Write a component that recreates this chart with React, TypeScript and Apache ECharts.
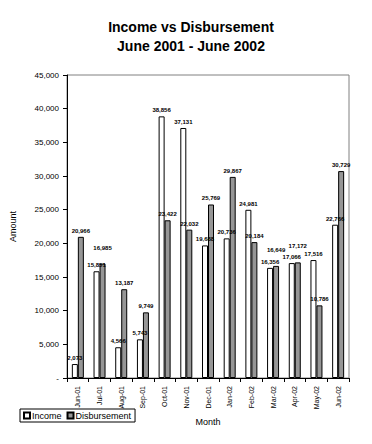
import React, { useEffect, useRef } from "react";
import * as echarts from "echarts";

const months = ["Jun-01", "Jul-01", "Aug-01", "Sep-01", "Oct-01", "Nov-01", "Dec-01", "Jan-02", "Feb-02", "Mar-02", "Apr-02", "May-02", "Jun-02"];
const income = [2073, 15851, 4566, 5743, 38856, 37131, 19688, 20736, 24981, 16356, 17066, 17516, 22766];
const disbursement = [20966, 16985, 13187, 9749, 23422, 22032, 25769, 29867, 20184, 16649, 17172, 10786, 30729];

const fmt = (v: number) => (v === 0 ? "-" : v.toLocaleString("en-US"));
const FONT = "Liberation Sans, Arial, sans-serif";

export default function App() {
  const ref = useRef<HTMLDivElement>(null);
  useEffect(() => {
    const chart = echarts.init(ref.current!, null, { renderer: "svg" });
    const labelCfg = {
      show: true,
      position: "top" as const,
      distance: 3,
      fontSize: 6,
      fontWeight: "bold" as const,
      fontFamily: FONT,
      color: "#000",
      formatter: (p: any) => fmt(p.value),
    };
    // lift the disbursement label when the pair of bars is about the same height
    const disbData = disbursement.map((v, i) =>
      Math.abs(v - income[i]) < 1500 ? { value: v, label: { distance: 13 } } : v
    );
    chart.setOption({
      animation: false,
      backgroundColor: "#fff",
      textStyle: { fontFamily: FONT },
      title: {
        text: "Income vs Disbursement\nJune 2001 - June 2002",
        left: 186,
        textAlign: "center",
        top: 12,
        textStyle: { fontSize: 14, fontWeight: "bold", color: "#000", lineHeight: 19, fontFamily: FONT },
      },
      legend: {
        left: 20,
        top: 409,
        data: ["Income", "Disbursement"],
        icon: "rect",
        itemWidth: 6,
        itemHeight: 6,
        itemGap: 5,
        borderColor: "#000",
        borderWidth: 1,
        padding: [2, 4, 2, 3],
        textStyle: { fontSize: 9, color: "#000", fontFamily: FONT, padding: [0, 0, 0, -3] },
      },
      grid: { left: 67, top: 75, right: 23, bottom: 66, show: true, borderColor: "#808080", borderWidth: 1 },
      xAxis: {
        type: "category",
        data: months,
        name: "Month",
        nameLocation: "middle",
        nameGap: 39,
        nameTextStyle: { fontSize: 9, color: "#000", fontFamily: FONT },
        axisLine: { lineStyle: { color: "#000" } },
        axisTick: { show: true, length: 4, lineStyle: { color: "#000" } },
        axisLabel: { rotate: 90, fontSize: 7, color: "#000", margin: 8, fontFamily: FONT },
      },
      yAxis: {
        type: "value",
        min: 0,
        max: 45000,
        interval: 5000,
        name: "Amount",
        nameLocation: "middle",
        nameGap: 50,
        nameRotate: 90,
        nameTextStyle: { fontSize: 9, color: "#000", fontFamily: FONT },
        axisLine: { show: true, lineStyle: { color: "#000" } },
        axisTick: { show: true, length: 4, lineStyle: { color: "#000" } },
        splitLine: { show: false },
        axisLabel: { fontSize: 8, color: "#000", margin: 8, fontFamily: FONT, formatter: (v: number) => fmt(v) },
      },
      series: [
        {
          name: "Income",
          type: "bar",
          data: income,
          barWidth: 6,
          barGap: "0%",
          itemStyle: { color: "#fff", borderColor: "#000", borderWidth: 1 },
          label: labelCfg,
        },
        {
          name: "Disbursement",
          type: "bar",
          data: disbData,
          barWidth: 6,
          barGap: "0%",
          itemStyle: { color: "#969696", borderColor: "#000", borderWidth: 1 },
          label: labelCfg,
        },
      ],
    });
    return () => chart.dispose();
  }, []);
  return <div ref={ref} style={{ width: 372, height: 444, position: "absolute", left: 0, top: 0 }} />;
}
